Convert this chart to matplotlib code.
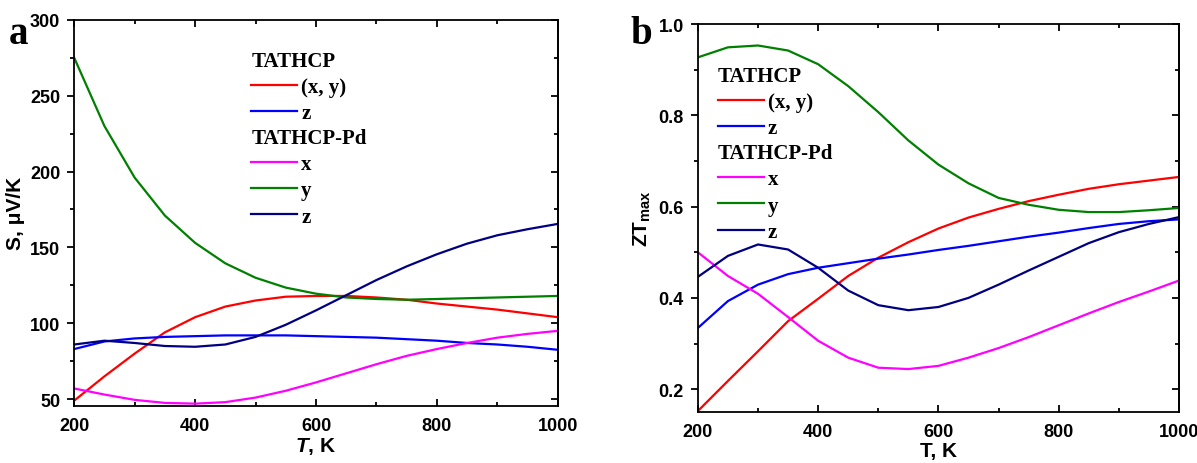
import matplotlib
matplotlib.use("Agg")
import matplotlib.pyplot as plt
import numpy as np

plt.rcParams["font.family"] = "Liberation Sans"
plt.rcParams["font.weight"] = "bold"
plt.rcParams["mathtext.fontset"] = "custom"
plt.rcParams["mathtext.it"] = "Liberation Sans:italic:bold"
plt.rcParams["mathtext.rm"] = "Liberation Sans"

# temperature grid, K
T = [200, 250, 300, 350, 400, 450, 500, 550, 600, 650, 700, 750, 800, 850, 900, 950, 1000]

# Seebeck coefficient, uV/K
S_tathcp_xy = [49, 65, 80, 94, 104, 111, 115, 117.5, 118, 118, 117, 115.5, 113, 111, 109, 106.5, 104]
S_tathcp_z = [83, 88, 90, 91, 91.5, 92, 92, 92, 91.5, 91, 90.5, 89.5, 88.5, 87, 86, 84.5, 82.5]
S_pd_x = [57, 53, 49.5, 47.5, 47, 48, 51, 55.5, 61, 67, 73, 78.5, 83, 87, 90.5, 93, 95]
S_pd_y = [275, 230, 196, 171, 153, 139.5, 130, 123.5, 119.5, 117, 116, 115.5, 116, 116.5, 117, 117.5, 118]
S_pd_z = [86, 88.5, 87, 85, 84.5, 86, 91, 99, 108.5, 118.5, 128.5, 137.5, 145.5, 152.5, 158, 162, 165.5]

# ZT max
ZT_tathcp_xy = [0.152, 0.218, 0.283, 0.349, 0.398, 0.448, 0.488, 0.522, 0.552, 0.576, 0.595, 0.612, 0.626, 0.639, 0.649, 0.657, 0.665]
ZT_tathcp_z = [0.334, 0.393, 0.429, 0.452, 0.466, 0.476, 0.486, 0.495, 0.505, 0.514, 0.524, 0.534, 0.543, 0.553, 0.562, 0.568, 0.572]
ZT_pd_x = [0.500, 0.448, 0.409, 0.358, 0.306, 0.269, 0.247, 0.244, 0.251, 0.269, 0.290, 0.314, 0.340, 0.366, 0.391, 0.414, 0.438]
ZT_pd_y = [0.927, 0.949, 0.953, 0.942, 0.912, 0.864, 0.807, 0.745, 0.692, 0.651, 0.619, 0.604, 0.593, 0.588, 0.588, 0.592, 0.597]
ZT_pd_z = [0.446, 0.492, 0.517, 0.506, 0.466, 0.416, 0.384, 0.373, 0.380, 0.400, 0.429, 0.460, 0.490, 0.520, 0.544, 0.562, 0.577]

RED, BLUE, MAG, GREEN, NAVY = "#ff0000", "#0000ff", "#ff00ff", "#008000", "#000080"
LEG_FONT = {"family": "Liberation Serif", "weight": "bold", "size": 15}


def style_axes(ax, ylim, major_y, minor_y, ylabels=None):
    ax.set_xlim(200, 1000)
    ax.set_ylim(*ylim)
    ax.set_xticks(np.arange(200, 1001, 200))
    ax.set_xticks(np.arange(200, 1001, 100), minor=True)
    ax.set_yticks(major_y)
    ax.set_yticks(minor_y, minor=True)
    if ylabels is not None:
        ax.set_yticklabels(ylabels)
    # left ticks point out, the rest point in
    ax.tick_params(axis="x", which="both", top=True, direction="in", width=1.3,
                   labelsize=13, pad=8)
    ax.tick_params(axis="y", which="both", right=False, direction="out", width=1.3,
                   labelsize=13, pad=5)
    ax.tick_params(which="major", length=5)
    ax.tick_params(which="minor", length=3)
    sec = ax.secondary_yaxis("right")
    sec.set_yticks(major_y)
    sec.set_yticks(minor_y, minor=True)
    sec.tick_params(which="both", direction="in", labelright=False, width=1.3)
    sec.tick_params(which="major", length=5)
    sec.tick_params(which="minor", length=3)
    sec.spines["right"].set_linewidth(1.3)
    for s in ax.spines.values():
        s.set_linewidth(1.3)
    for lab in ax.get_xticklabels() + ax.get_yticklabels():
        lab.set_fontweight("bold")


def add_legends(ax, lines, x0, y1, y2):
    kw = dict(loc="upper left", frameon=False, prop=LEG_FONT,
              title_fontproperties=LEG_FONT, alignment="left",
              handlelength=2.2, handletextpad=0.2, labelspacing=0.3,
              borderpad=0, borderaxespad=0)
    l1 = ax.legend(lines[:2], ["(x, y)", "z"], title="TATHCP",
                   bbox_to_anchor=(x0, y1), **kw)
    ax.add_artist(l1)
    ax.legend(lines[2:], ["x", "y", "z"], title="TATHCP-Pd",
              bbox_to_anchor=(x0, y2), **kw)


fig = plt.figure(figsize=(11.97, 4.64), dpi=100)
ax1 = fig.add_axes([0.062, 0.123, 0.404, 0.832])
ax2 = fig.add_axes([0.583, 0.110, 0.402, 0.836])

lw = 1.6
la = [ax1.plot(T, S_tathcp_xy, color=RED, lw=lw)[0],
      ax1.plot(T, S_tathcp_z, color=BLUE, lw=lw)[0],
      ax1.plot(T, S_pd_x, color=MAG, lw=lw)[0],
      ax1.plot(T, S_pd_y, color=GREEN, lw=lw)[0],
      ax1.plot(T, S_pd_z, color=NAVY, lw=lw)[0]]
style_axes(ax1, (45.5, 300), np.arange(50, 301, 50), np.arange(50, 301, 25))
ax1.set_xlabel("$T$, K", fontsize=15, fontweight="bold", labelpad=1)
ax1.set_ylabel("S, μV/K", fontsize=15, fontweight="bold", labelpad=4)
add_legends(ax1, la, 0.366, 0.92, 0.72)

lb = [ax2.plot(T, ZT_tathcp_xy, color=RED, lw=lw)[0],
      ax2.plot(T, ZT_tathcp_z, color=BLUE, lw=lw)[0],
      ax2.plot(T, ZT_pd_x, color=MAG, lw=lw)[0],
      ax2.plot(T, ZT_pd_y, color=GREEN, lw=lw)[0],
      ax2.plot(T, ZT_pd_z, color=NAVY, lw=lw)[0]]
style_axes(ax2, (0.15, 1.0), np.arange(0.2, 1.01, 0.2), np.arange(0.2, 1.01, 0.1),
           ["0.2", "0.4", "0.6", "0.8", "1.0"])
ax2.set_xlabel("T, K", fontsize=15, fontweight="bold", labelpad=1)
ax2.set_ylabel("ZT$_{\\rm max}$", fontsize=15, fontweight="bold", labelpad=4)
add_legends(ax2, lb, 0.042, 0.892, 0.693)

fig.text(0.007, 0.905, "a", fontsize=28, fontweight="bold", family="Liberation Serif")
fig.text(0.527, 0.905, "b", fontsize=28, fontweight="bold", family="Liberation Serif")

fig.savefig("out.png", dpi=100)
